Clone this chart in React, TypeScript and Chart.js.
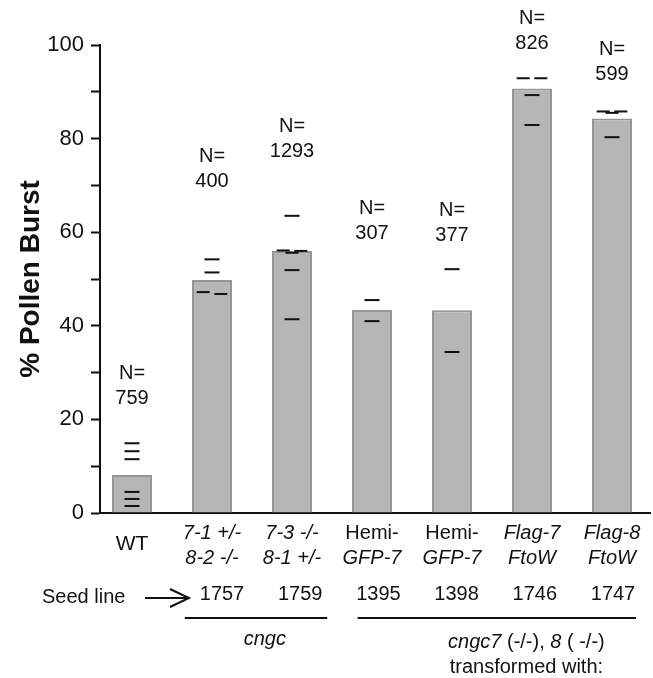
import React, { useEffect, useRef } from 'react';
import { Chart, registerables } from 'chart.js';

Chart.register(...registerables);

// ---------- data ----------
const categoryLine1 = ['WT', '7-1 +/-', '7-3 -/-', 'Hemi-', 'Hemi-', 'Flag-7', 'Flag-8'];
const categoryLine2 = ['', '8-2 -/-', '8-1 +/-', 'GFP-7', 'GFP-7', 'FtoW', 'FtoW'];
const line1Italic = [false, true, true, false, false, true, true];

const barValues = [8.1, 49.8, 56.0, 43.4, 43.3, 90.7, 84.3];

const replicatesWT = [14.9, 13.2, 11.5, 4.5, 3.0, 1.5];
const replicates71 = [54.2, 51.4, 47.2, 46.8];
const replicates73 = [63.5, 56.1, 56.0, 55.6, 51.9, 41.4];
const replicatesHemi1395 = [45.5, 41.0];
const replicatesHemi1398 = [52.1, 34.4];
const replicatesFlag7 = [92.9, 92.9, 89.3, 82.9];
const replicatesFlag8 = [85.8, 85.8, 85.5, 80.3];
const replicates = [
  replicatesWT, replicates71, replicates73, replicatesHemi1395,
  replicatesHemi1398, replicatesFlag7, replicatesFlag8,
];

const nCounts = ['759', '400', '1293', '307', '377', '826', '599'];
// value (in % units) at which each N count label sits
const nLabelAt = [24.4, 70.8, 77.2, 59.8, 59.4, 100.4, 93.8];

const seedLines = ['', '1757', '1759', '1395', '1398', '1746', '1747'];

const yTickValues = [0, 20, 40, 60, 80, 100];

const FAMILY = '"Liberation Sans", Arial, Helvetica, sans-serif';

// group replicate dashes: near-equal values are shown side by side
function buildReplicatePoints() {
  const pts: { x: number; y: number }[] = [];
  const radii: number[] = [];
  replicates.forEach((vals, i) => {
    const sorted = [...vals].sort((a, b) => b - a);
    let k = 0;
    while (k < sorted.length) {
      let j = k;
      while (j + 1 < sorted.length && sorted[j] - sorted[j + 1] < 0.5) j++;
      const cluster = sorted.slice(k, j + 1);
      if (cluster.length === 1) {
        pts.push({ x: i, y: cluster[0] });
        radii.push(7.5);
      } else {
        cluster.forEach((v, m) => {
          const off = m === 0 ? -0.11 : m === 1 ? 0.11 : 0;
          pts.push({ x: i + off, y: v });
          radii.push(6.5);
        });
      }
      k = j + 1;
    }
  });
  return { pts, radii };
}

type Seg = { text: string; italic: boolean };

function drawSegments(ctx: CanvasRenderingContext2D, segs: Seg[], cx: number, cy: number, size: number) {
  let total = 0;
  const widths = segs.map((s) => {
    ctx.font = `${s.italic ? 'italic ' : ''}${size}px ${FAMILY}`;
    const w = ctx.measureText(s.text).width;
    total += w;
    return w;
  });
  let x = cx - total / 2;
  ctx.textAlign = 'left';
  segs.forEach((s, i) => {
    ctx.font = `${s.italic ? 'italic ' : ''}${size}px ${FAMILY}`;
    ctx.fillText(s.text, x, cy);
    x += widths[i];
  });
}

const figureTextPlugin = {
  id: 'figureText',
  afterDraw(chart: any) {
    const { ctx, chartArea, scales } = chart;
    const xs = scales.x;
    const ys = scales.y;
    const bottom = chartArea.bottom;
    ctx.save();
    ctx.fillStyle = '#111';
    ctx.strokeStyle = '#111';
    ctx.textBaseline = 'middle';

    // N= labels
    nCounts.forEach((n, i) => {
      const px = xs.getPixelForValue(i);
      const py = ys.getPixelForValue(nLabelAt[i]);
      drawSegments(ctx, [{ text: 'N=', italic: false }], px, py - 25, 20);
      drawSegments(ctx, [{ text: n, italic: false }], px, py, 20);
    });

    // category labels
    categoryLine1.forEach((t, i) => {
      const px = xs.getPixelForValue(i);
      if (categoryLine2[i]) {
        drawSegments(ctx, [{ text: t, italic: line1Italic[i] }], px, bottom + 20, 20);
        drawSegments(ctx, [{ text: categoryLine2[i], italic: true }], px, bottom + 45, 20);
      } else {
        drawSegments(ctx, [{ text: t, italic: line1Italic[i] }], px, bottom + 31, 21);
      }
    });

    // seed line row
    const seedY = bottom + 82;
    ctx.font = `20px ${FAMILY}`;
    ctx.textAlign = 'left';
    ctx.fillText('Seed line', 42, seedY + 2);
    ctx.lineWidth = 2;
    ctx.beginPath();
    ctx.moveTo(145, seedY + 3);
    ctx.lineTo(188, seedY + 3);
    ctx.moveTo(170, seedY - 6);
    ctx.lineTo(189, seedY + 3);
    ctx.lineTo(170, seedY + 12);
    ctx.stroke();

    const firstSeed = xs.getPixelForValue(1) + 10;
    const lastSeed = xs.getPixelForValue(6) + 1;
    const seeds = seedLines.map((s, i) => ({ s, i })).filter((o) => o.s);
    seeds.forEach((o, k) => {
      const px = firstSeed + ((lastSeed - firstSeed) * k) / (seeds.length - 1);
      drawSegments(ctx, [{ text: o.s, italic: false }], px, seedY - 1, 20);
    });

    // group underlines
    const lineY = bottom + 105;
    ctx.lineWidth = 2;
    ctx.beginPath();
    ctx.moveTo(xs.getPixelForValue(1 - 0.34), lineY);
    ctx.lineTo(xs.getPixelForValue(2 + 0.44), lineY);
    ctx.moveTo(xs.getPixelForValue(3 - 0.18), lineY);
    ctx.lineTo(xs.getPixelForValue(6 + 0.3), lineY);
    ctx.stroke();

    drawSegments(ctx, [{ text: 'cngc', italic: true }], xs.getPixelForValue(1.66), bottom + 126, 20);
    const g2 = xs.getPixelForValue(4.93);
    drawSegments(
      ctx,
      [
        { text: 'cngc7', italic: true },
        { text: ' (-/-), ', italic: false },
        { text: '8', italic: true },
        { text: ' ( -/-)', italic: false },
      ],
      g2,
      bottom + 129,
      20
    );
    drawSegments(ctx, [{ text: 'transformed with:', italic: false }], g2, bottom + 154, 20);

    ctx.restore();
  },
};

export default function App() {
  const ref = useRef<HTMLCanvasElement>(null);

  useEffect(() => {
    const { pts, radii } = buildReplicatePoints();
    const chart = new Chart(ref.current as HTMLCanvasElement, {
      type: 'bar',
      data: {
        datasets: [
          {
            type: 'scatter',
            data: pts,
            pointStyle: 'line',
            pointRadius: radii,
            pointHoverRadius: radii,
            borderColor: '#111',
            backgroundColor: '#111',
            pointBorderWidth: 2,
            borderWidth: 2,
            clip: false,
            order: 0,
          } as any,
          {
            type: 'bar',
            data: barValues.map((v, i) => ({ x: i, y: v })),
            backgroundColor: '#b6b6b6',
            borderColor: '#969696',
            borderWidth: 2,
            barPercentage: 0.5,
            categoryPercentage: 1,
            order: 1,
          } as any,
        ],
      },
      options: {
        responsive: false,
        animation: false,
        devicePixelRatio: 1,
        layout: { autoPadding: false, padding: { top: 45, right: 3, left: 0, bottom: 0 } },
        plugins: { legend: { display: false }, tooltip: { enabled: false } },
        scales: {
          x: {
            type: 'linear',
            offset: false,
            min: -0.4,
            max: 6.475,
            ticks: { display: false },
            grid: { display: false, offset: false },
            border: { display: true, color: '#111', width: 2 },
            afterFit: (s: any) => {
              s.height = 165;
            },
          },
          y: {
            type: 'linear',
            min: 0,
            max: 100,
            ticks: {
              stepSize: 10,
              autoSkip: false,
              padding: 7,
              color: '#111',
              font: { size: 22, family: FAMILY },
              callback: (v: any) => (yTickValues.includes(Number(v)) ? String(v) : ''),
            },
            grid: {
              display: true,
              drawOnChartArea: false,
              drawTicks: true,
              tickLength: 9,
              tickWidth: 2,
              tickColor: '#111',
            },
            border: { display: true, color: '#111', width: 2 },
            title: {
              display: true,
              text: '% Pollen Burst',
              color: '#111',
              font: { size: 28, weight: 'bold', family: FAMILY },
              padding: { top: 14, bottom: 0 },
            },
            afterFit: (s: any) => {
              s.width = 100;
            },
          },
        },
      } as any,
      plugins: [figureTextPlugin],
    });
    return () => chart.destroy();
  }, []);

  return (
    <div style={{ position: 'absolute', left: 0, top: 0, width: 653, height: 678 }}>
      <canvas ref={ref} width={653} height={678} style={{ display: 'block' }} />
    </div>
  );
}
